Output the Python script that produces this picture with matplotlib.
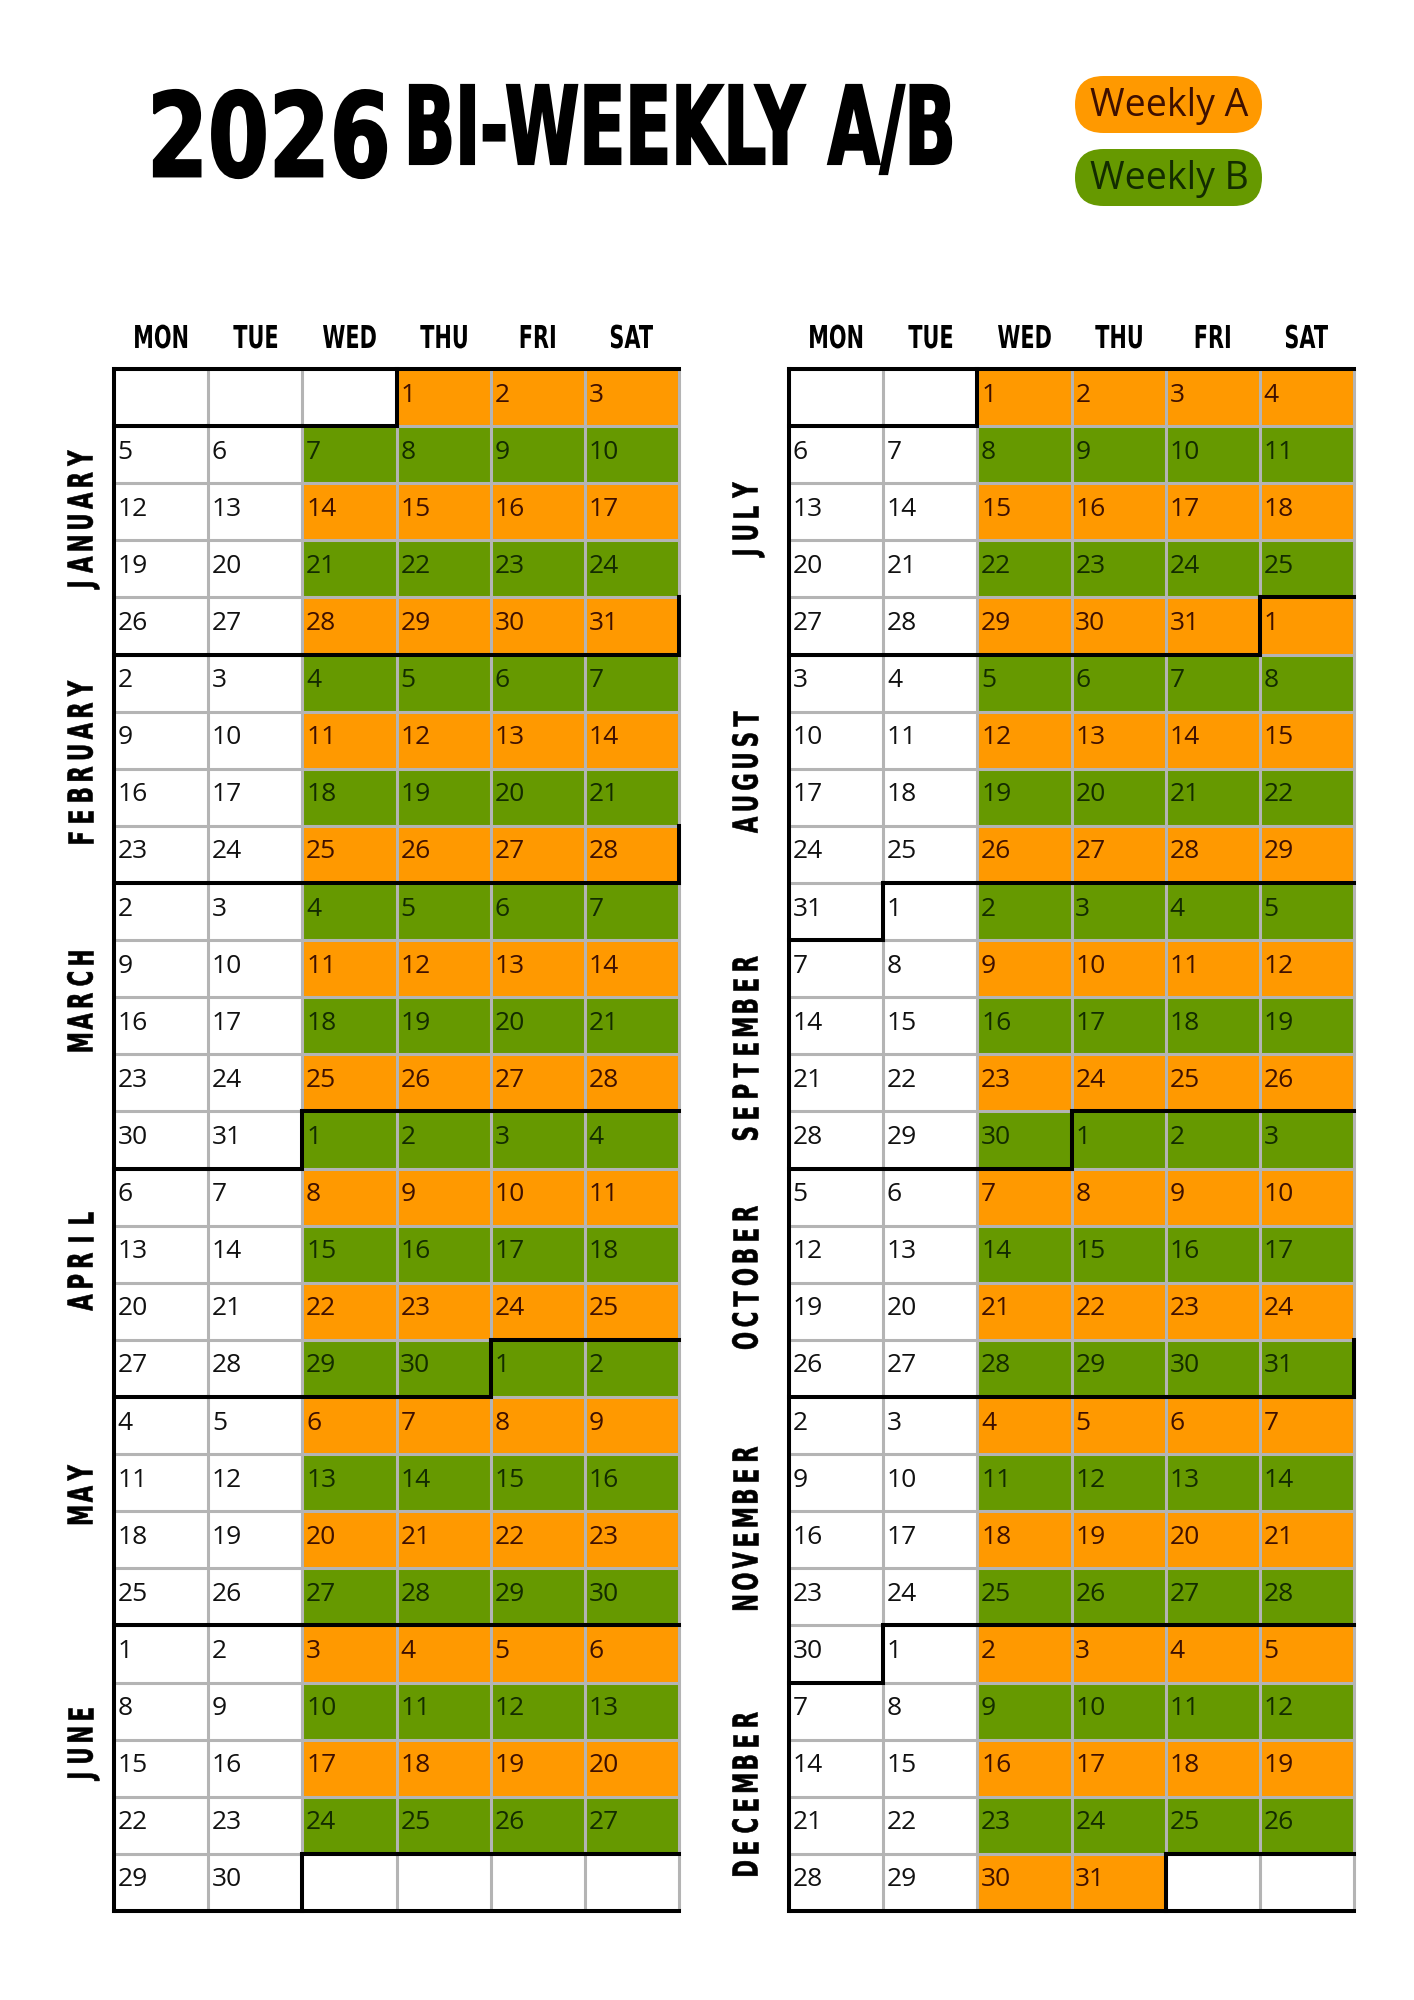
import datetime as dt
import matplotlib
matplotlib.use("Agg")
import matplotlib.pyplot as plt
from matplotlib.patches import Rectangle, FancyBboxPatch, PathPatch
from matplotlib.collections import LineCollection
from matplotlib.textpath import TextPath
from matplotlib.font_manager import FontProperties
from matplotlib.transforms import Affine2D

# ---- data ----
TITLE_YEAR = "2026"
TITLE_REST = "BI-WEEKLY A/B"
DAY_NAMES = ["MON", "TUE", "WED", "THU", "FRI", "SAT"]
LEGEND_LABELS = ["Weekly A", "Weekly B"]
LEGEND_KEYS = ["A", "B"]

N_WEEKS = 27
LEFT_START = dt.date(2025, 12, 29)          # monday of the first row
LEFT_FIRST, LEFT_LAST = dt.date(2026, 1, 1), dt.date(2026, 6, 30)
RIGHT_START = dt.date(2026, 6, 29)
RIGHT_FIRST, RIGHT_LAST = dt.date(2026, 7, 1), dt.date(2026, 12, 31)
LEFT_WEEKS = list("ABABABABABABABABABABABABABA")
RIGHT_WEEKS = list("ABABABABABABABABABABABABABA")

LEFT_MONTHS = ["JANUARY", "FEBRUARY", "MARCH", "APRIL", "MAY", "JUNE"]
RIGHT_MONTHS = ["JULY", "AUGUST", "SEPTEMBER", "OCTOBER", "NOVEMBER", "DECEMBER"]
# centre of each month label, in rows from the top of the grid
LEFT_MONTH_POS = [2.68, 6.9, 11.05, 15.6, 19.7, 24.1]
RIGHT_MONTH_POS = [2.68, 7.05, 11.9, 15.9, 20.3, 24.95]

# ---- style / layout (pixels) ----
FILL = {"A": "#ff9900", "B": "#669900"}
INK = {"A": "#3f1000", "B": "#132c00", None: "#111111"}
GRID = "#b4b4b4"
BODY = ["Open Sans", "DejaVu Sans"]
PATH_FONT = FontProperties(family="DejaVu Sans", weight="bold")

W, H = 1414, 2000
GRID_TOP, GRID_BOT = 369, 1911
GRID_LEFT = [114, 789]
GRID_W = 565
ROW_H = (GRID_BOT - GRID_TOP) / N_WEEKS
COL_W = GRID_W / 6

fig = plt.figure(figsize=(W / 100, H / 100), dpi=100)
fig.patch.set_facecolor("white")

# full-figure axes in pixel units for title, legend and lettering
top = fig.add_axes([0, 0, 1, 1])
top.set_xlim(0, W)
top.set_ylim(H, 0)
top.axis("off")

_cap = TextPath((0, 0), "H", size=100, prop=PATH_FONT).get_extents().height


def fit_text(ax, s, box):
    """Draw s as a path stretched into box = (x0, y0, x1, y1) pixel coords."""
    tp = TextPath((0, 0), s, size=100, prop=PATH_FONT)
    ext = tp.get_extents()
    sx = (box[2] - box[0]) / ext.width
    sy = (box[3] - box[1]) / ext.height
    tr = Affine2D().translate(-ext.x0, -ext.y1).scale(sx, -sy).translate(box[0], box[1])
    ax.add_patch(PathPatch(tr.transform_path(tp), facecolor="black",
                           edgecolor="black", lw=1.6))


def path_label(ax, s, cx, cy, cap, xscale, rot=0, lw=0.0):
    """Condensed caps lettering centred on (cx, cy) pixels."""
    tp = TextPath((0, 0), s, size=100, prop=PATH_FONT)
    ext = tp.get_extents()
    k = cap / _cap
    tr = (Affine2D().translate(-(ext.x0 + ext.x1) / 2, -_cap / 2)
          .scale(k * xscale, k).rotate_deg(rot).scale(1, -1).translate(cx, cy))
    ax.add_patch(PathPatch(tr.transform_path(tp), facecolor="black",
                           edgecolor="black", lw=lw))


fit_text(top, TITLE_YEAR, (154, 90, 386, 178))
fit_text(top, TITLE_REST, (410, 85, 951, 174))

for i, (lab, key) in enumerate(zip(LEGEND_LABELS, LEGEND_KEYS)):
    y0 = 76 + i * 73
    top.add_patch(FancyBboxPatch((1075, y0), 187, 57,
                                 boxstyle="round,pad=0,rounding_size=28.5",
                                 facecolor=FILL[key], edgecolor="none"))
    top.text(1169, y0 + 30, lab, ha="center", va="center", fontsize=27,
             family=BODY, color=INK[key])


def month_key(d, first, last):
    if d < first:
        return 0
    if d > last:
        return 13
    return d.month


def draw_panel(x0, start, first, last, weeks, months, month_pos, label_dx):
    ax = fig.add_axes([x0 / W, 1 - GRID_BOT / H, GRID_W / W, (GRID_BOT - GRID_TOP) / H])
    ax.set_xlim(0, 6)
    ax.set_ylim(N_WEEKS, 0)
    ax.axis("off")

    keys = {}
    for r in range(N_WEEKS):
        for c in range(6):
            d = start + dt.timedelta(days=7 * r + c)
            k = month_key(d, first, last)
            keys[r, c] = k
            shown = 0 < k < 13
            wk = weeks[r] if (c >= 2 and shown) else None
            ax.add_patch(Rectangle((c, r), 1, 1, facecolor=FILL.get(wk, "white"),
                                   edgecolor="none"))
            if shown:
                ax.text(c + 0.04, r + 0.57, str(d.day), ha="left", va="baseline",
                        fontsize=19, family=BODY, color=INK[wk])

    grey = [[(0, r), (6, r)] for r in range(N_WEEKS + 1)]
    grey += [[(c, 0), (c, N_WEEKS)] for c in range(7)]
    ax.add_collection(LineCollection(grey, colors=GRID, linewidths=2.2, clip_on=False))

    thick = [[(0, 0), (6, 0)], [(0, N_WEEKS), (6, N_WEEKS)], [(0, 0), (0, N_WEEKS)]]
    for r in range(N_WEEKS):
        for c in range(6):
            if r + 1 < N_WEEKS and keys[r, c] != keys[r + 1, c]:
                thick.append([(c, r + 1), (c + 1, r + 1)])
            if c + 1 < 6 and keys[r, c] != keys[r, c + 1]:
                thick.append([(c + 1, r), (c + 1, r + 1)])
        sat = start + dt.timedelta(days=7 * r + 5)
        if month_key(sat, first, last) != month_key(sat + dt.timedelta(days=1), first, last):
            thick.append([(6, r), (6, r + 1)])
    ax.add_collection(LineCollection(thick, colors="black", linewidths=2.9,
                                     capstyle="projecting", clip_on=False))

    for c, name in enumerate(DAY_NAMES):
        path_label(top, name, x0 + (c + 0.5) * COL_W, 336.5, 23, 0.66)

    pitch = 21.3
    for name, pos in zip(months, month_pos):
        n = len(name)
        yc = GRID_TOP + pos * ROW_H
        for i, ch in enumerate(name):
            y = yc + ((n - 1) / 2 - i) * pitch
            path_label(top, ch, x0 + label_dx, y, 25, 0.62, rot=90, lw=0.4)


draw_panel(GRID_LEFT[0], LEFT_START, LEFT_FIRST, LEFT_LAST, LEFT_WEEKS,
           LEFT_MONTHS, LEFT_MONTH_POS, -34)
draw_panel(GRID_LEFT[1], RIGHT_START, RIGHT_FIRST, RIGHT_LAST, RIGHT_WEEKS,
           RIGHT_MONTHS, RIGHT_MONTH_POS, -44)

fig.savefig("out.png", dpi=100, facecolor="white")
